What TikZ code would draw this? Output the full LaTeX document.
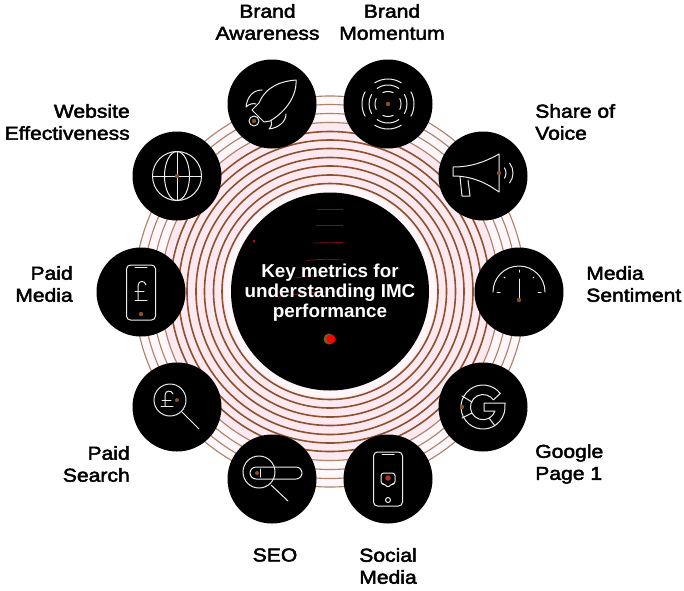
\documentclass[tikz,border=0pt]{standalone}
\usepackage{fontspec}
\setmainfont{Liberation Sans}[FakeBold=2.5,FakeStretch=1.13]
\newfontfamily\centrefont{Liberation Sans Bold}[FakeStretch=1.01]
\usepackage{tikz}

\begin{document}
\begin{tikzpicture}[x=0.75pt,y=0.75pt,yscale=-1,xscale=1,
  ring/.style={draw={rgb, 255:red, 140; green, 82; blue, 48 },line width=1.2pt},
  ringouter/.style={draw={rgb, 255:red, 172; green, 132; blue, 108 },line width=0.85pt},
  metricdisc/.style={circle,fill=black,minimum size=66.75pt,inner sep=0pt},
  icon/.style={draw={rgb, 255:red, 238; green, 238; blue, 238 },line width=0.75pt,line cap=round,line join=round},
  speck/.style={fill={rgb, 255:red, 140; green, 80; blue, 30 }},
  streak/.style={draw={rgb, 255:red, 130; green, 10; blue, 20 },line width=0.6pt},
  metriclabel/.style={inner sep=0pt,font=\fontsize{14}{16.5}\selectfont,text=black}]
\useasboundingbox (0,0) rectangle (684,590);

%Shape: pink band behind the rings
\fill [fill={rgb, 255:red, 255; green, 247; blue, 249 }] (330,291.5) circle (196);
\fill [fill={rgb, 255:red, 254; green, 233; blue, 241 }] (330,291.5) circle (170);
\fill [fill={rgb, 255:red, 255; green, 246; blue, 249 }] (330,291.5) circle (106);

%Shape: Rings
\draw [ringouter] (330,291.5) circle (195.5);
\draw [ringouter] (330,291.5) circle (187);
\draw [ringouter] (330,291.5) circle (178);
\draw [ringouter] (330,291.5) circle (169);
\draw [ring] (330,291.5) circle (160);
\draw [ring] (330,291.5) circle (151.5);
\draw [ring] (330,291.5) circle (143);
\draw [ring] (330,291.5) circle (134);
\draw [ring] (330,291.5) circle (125.5);
\draw [ring] (330,291.5) circle (116.5);
\draw [ring] (330,291.5) circle (108);

%Shape: Discs
\node (discCentre) [circle,fill=black,minimum size=148.5pt,inner sep=0pt] at (330,291.5) {};
\node (discAwareness) [metricdisc] at (272,104) {};
\node (discMomentum) [metricdisc] at (388,104) {};
\node (discVoice) [metricdisc] at (483,176) {};
\node (discSentiment) [metricdisc] at (519,292) {};
\node (discGoogle) [metricdisc] at (483,407) {};
\node (discSocial) [metricdisc] at (388,479) {};
\node (discSeo) [metricdisc] at (272,479) {};
\node (discSearch) [metricdisc] at (177,407) {};
\node (discMedia) [metricdisc] at (141,292) {};
\node (discWebsite) [metricdisc] at (177,176) {};

%Straight Lines: streaks in the centre
\draw [streak] (317,209) -- (343,209);
\draw [streak] (316,225.5) -- (343,225.5);
\draw [streak] (313,243) -- (343,242.5);
\draw [streak] (307,260.5) .. controls (320,259) and (330,259) .. (343,260);
\draw [streak] (295,278) .. controls (310,275) and (330,275) .. (343,276);
\draw [streak] (278,297) .. controls (300,293) and (325,291) .. (343,292);
\fill [fill={rgb, 255:red, 200; green, 10; blue, 20 }] (254,241) circle (1.5);

%Shape: dot in the centre
\fill [fill={rgb, 255:red, 120; green, 90; blue, 30 }] (329,339) circle (5.5);
\fill [fill={rgb, 255:red, 255; green, 0; blue, 0 }] (331,339) circle (4.5);

%Rocket
\begin{scope}[shift={(discAwareness.center)}]
\draw [icon] (24,-24) .. controls (10,-23) and (-6,-18) .. (-13,-1) -- (-20,6) -- (-8,18) -- (-2,17) .. controls (10,10) and (25,-5) .. (24,-24) -- cycle ;
\draw [icon] (-10,-14) .. controls (-20,-14) and (-25,-6) .. (-26,3) .. controls (-23,0) and (-19,-1) .. (-16,0) ;
\draw [icon] (14,10) .. controls (14,18) and (6,24) .. (-3,25) .. controls (0,22) and (0,19) .. (-1,16) ;
\fill [black] (-18,17) circle (5);
\draw [icon] (-18,17) circle (5);
\fill [speck] (-18,17) circle (2.2);
\end{scope}

%Signal
\begin{scope}[shift={(discMomentum.center)}]
\draw [icon] (-122:25) arc [start angle=-122,end angle=-58,radius=25];
\draw [icon] (-125:19) arc [start angle=-125,end angle=-55,radius=19];
\draw [icon] (-115:12.5) arc [start angle=-115,end angle=-65,radius=12.5];
\draw [icon] (58:25) arc [start angle=58,end angle=122,radius=25];
\draw [icon] (55:19) arc [start angle=55,end angle=125,radius=19];
\draw [icon] (65:12.5) arc [start angle=65,end angle=115,radius=12.5];
\draw [icon] (-28:26) arc [start angle=-28,end angle=28,radius=26];
\draw [icon] (-30:19) arc [start angle=-30,end angle=30,radius=19];
\draw [icon] (-25:13) arc [start angle=-25,end angle=25,radius=13];
\draw [icon] (152:26) arc [start angle=152,end angle=208,radius=26];
\draw [icon] (150:19) arc [start angle=150,end angle=210,radius=19];
\draw [icon] (155:13) arc [start angle=155,end angle=205,radius=13];
\fill [speck] (0,0) circle (2.2);
\end{scope}

%Megaphone
\begin{scope}[shift={(discVoice.center)}]
\draw [icon] (16,-22) -- (16,16) .. controls (2,6) and (-12,0) .. (-30,0) -- (-30,-9) .. controls (-12,-9) and (2,-14) .. (16,-22) -- cycle ;
\draw [icon] (-23,1) -- (-21,20) -- (-13,20) -- (-15,4) ;
\draw [icon] (14,-3) ++(-35:9) arc [start angle=-35,end angle=35,radius=9];
\draw [icon] (14,-3) ++(-38:16) arc [start angle=-38,end angle=38,radius=16];
\fill [speck] (16,-3) circle (2.2);
\end{scope}

%Gauge
\begin{scope}[shift={(discSentiment.center)}]
\draw [icon] (-26,0) arc [start angle=180,end angle=360,radius=26];
\draw [icon] (0,-13) -- (0,8) ;
\draw [icon] (0,-22) -- (0,-20) ;
\draw [icon] (-15,-15) -- (-14,-14) ;
\draw [icon] (15,-15) -- (14,-14) ;
\draw [icon] (-22,0) -- (-19,0) ;
\draw [icon] (22,0) -- (19,0) ;
\fill [speck] (0,8) circle (2.2);
\end{scope}

%Google
\begin{scope}[shift={(discGoogle.center)}]
\draw [icon] (-38:22) arc [start angle=-38,end angle=-360+4,radius=22] -- (22,-4) -- (1,-4) -- (1,4) -- (12,4) arc [start angle=18,end angle=325,radius=12.6] -- cycle ;
\draw [icon] (-21,-11) -- (-11,-5) ;
\draw [icon] (-21,11) -- (-11,6) ;
\draw [icon] (6,11) -- (12,19) ;
\fill [speck] (-21,0) circle (2.2);
\end{scope}

%Phone with heart
\begin{scope}[shift={(discSocial.center)}]
\draw [icon,rounded corners=3] (-14.5,-27) rectangle (14.5,27);
\draw [icon] (-6,-25) -- (6,-25) ;
\draw [icon,rounded corners=2] (-7,-6) -- (7,-6) -- (7,5) -- (3,5) -- (0,9) -- (-3,5) -- (-7,5) -- cycle ;
\draw [icon] (0,21) circle (2.5);
\fill [fill={rgb, 255:red, 170; green, 50; blue, 30 }] (0,-1) circle (2.8);
\end{scope}

%Magnifier on a search bar
\begin{scope}[shift={(discSeo.center)}]
\draw [icon] (-16,-12) -- (24,-12) arc [start angle=-90,end angle=90,radius=6] -- (-16,0) arc [start angle=90,end angle=270,radius=6] -- cycle ;
\draw [icon] (-13,-7) circle (16);
\draw [icon] (-1,6) -- (16,22) ;
\draw [icon] (-12,-10) -- (-12,-2) ;
\fill [speck] (-15,-6) circle (2);
\end{scope}

%Magnifier with pound
\begin{scope}[shift={(discSearch.center)}]
\draw [icon] (-7,-7) circle (16);
\draw [icon] (5,5) -- (22,22) ;
\draw [icon] (-4,-13) .. controls (-5,-17) and (-12,-17) .. (-12,-12) -- (-12,-1) ;
\draw [icon] (-16,-1) -- (-4,-1) ;
\draw [icon] (-15,-7) -- (-6,-7) ;
\fill [speck] (0,-7) circle (2);
\end{scope}

%Phone with pound
\begin{scope}[shift={(discMedia.center)}]
\draw [icon,rounded corners=3] (-14.5,-27) rectangle (14.5,28);
\draw [icon] (-6,-25) -- (6,-25) ;
\draw [icon] (5,-7) .. controls (4,-12) and (-3,-12) .. (-3,-6) -- (-3,8) ;
\draw [icon] (-6,8) -- (6,8) ;
\draw [icon] (-6,-1) -- (3,-1) ;
\fill [speck] (0,22) circle (2.2);
\end{scope}

%Globe
\begin{scope}[shift={(discWebsite.center)}]
\draw [icon] (0,0) circle (24.5);
\draw [icon] (0,0) ellipse (12.5 and 24.5);
\draw [icon] (0,-24.5) -- (0,24.5) ;
\draw [icon] (-24.5,0) -- (24.5,0) ;
\fill [speck] (0,0) circle (2.2);
\end{scope}

% Text Node
\node (lblCentre) [align=center,text=white,inner sep=0pt,font=\centrefont\fontsize{14}{15}\selectfont] at (330,293) {Key metrics for\\understanding IMC\\performance};
% Text Node
\node (lblAwareness) [metriclabel,align=center] at (267.5,22) {Brand\\Awareness};
% Text Node
\node (lblMomentum) [metriclabel,align=center] at (392,22) {Brand\\Momentum};
% Text Node
\node (lblVoice) [metriclabel,align=left,anchor=west] at (535,122) {Share of\\Voice};
% Text Node
\node (lblSentiment) [metriclabel,align=left,anchor=west] at (586,284) {Media\\Sentiment};
% Text Node
\node (lblGoogle) [metriclabel,align=left,anchor=west] at (535,464) {Google\\Page 1};
% Text Node
\node (lblSocial) [metriclabel,align=left,anchor=west] at (359,566) {Social\\Media};
% Text Node
\node (lblSeo) [metriclabel] at (275,555) {SEO};
% Text Node
\node (lblSearch) [metriclabel,align=right,anchor=east] at (130,464) {Paid\\Search};
% Text Node
\node (lblMedia) [metriclabel,align=right,anchor=east] at (73,284) {Paid\\Media};
% Text Node
\node (lblWebsite) [metriclabel,align=right,anchor=east] at (130,122) {Website\\Effectiveness};

\end{tikzpicture}
\end{document}
